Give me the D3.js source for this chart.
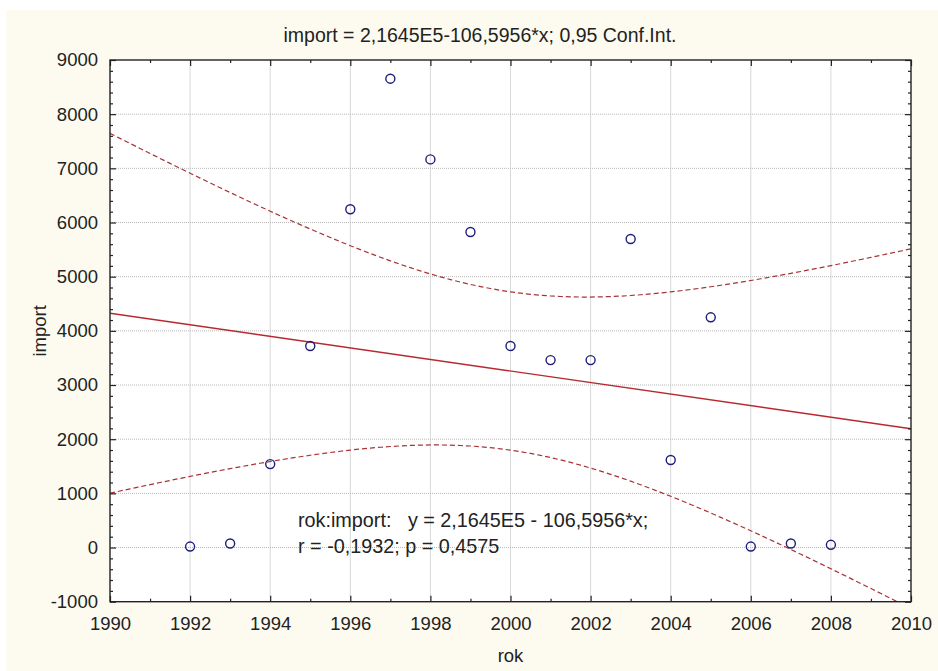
<!DOCTYPE html>
<html>
<head>
<meta charset="utf-8">
<script src="https://cdn.jsdelivr.net/npm/d3@7/dist/d3.min.js"></script>
<style>
  html, body { margin: 0; padding: 0; background: #ffffff; }
  svg { display: block; }
  text { font-family: "Liberation Sans", Arial, sans-serif; fill: #222; }
</style>
</head>
<body>
<svg id="chart" width="938" height="671"></svg>
<script>
// ---- data ----
const years = [1992, 1993, 1994, 1995, 1996, 1997, 1998, 1999, 2000, 2001, 2002, 2003, 2004, 2005, 2006, 2007, 2008];
const importValues = [18, 74, 1540, 3720, 6245, 8655, 7165, 5825, 3720, 3460, 3460, 5695, 1615, 4250, 18, 74, 50];
const xTickValues = [1990, 1992, 1994, 1996, 1998, 2000, 2002, 2004, 2006, 2008, 2010];
const yTickValues = [-1000, 0, 1000, 2000, 3000, 4000, 5000, 6000, 7000, 8000, 9000];
const xDomain = [1990, 2010];
const yDomain = [-1000, 9000];
const fitIntercept = 216450;     // 2,1645E5 (from the chart title)
const fitSlope = -106.5956;      // from the chart title
const titleText = "import = 2,1645E5-106,5956*x; 0,95 Conf.Int.";
const xLabel = "rok";
const yLabel = "import";
const annotationLines = ["rok:import:   y = 2,1645E5 - 106,5956*x;", "r = -0,1932; p = 0,4575"];
const tCrit = 2.131; // t(0.975, df = 15)

// ---- layout ----
const W = 938, H = 671;
const L = 110, R = 911, T = 60, B = 601.7;
const svg = d3.select("#chart");

svg.append("rect").attr("x", 0).attr("y", 0).attr("width", W).attr("height", H).attr("fill", "#ffffff");
svg.append("rect").attr("x", 6).attr("y", 10).attr("width", W - 6).attr("height", H - 10).attr("fill", "#fdfbf0");
svg.append("rect").attr("x", L).attr("y", T).attr("width", R - L).attr("height", B - T).attr("fill", "#ffffff");

const x = d3.scaleLinear().domain(xDomain).range([L, R]);
const y = d3.scaleLinear().domain(yDomain).range([B, T]);

// ---- grid ----
const grid = svg.append("g");
grid.selectAll("line.vg").data(xTickValues.filter(v => v > xDomain[0] && v < xDomain[1]))
  .join("line").attr("class", "vg")
  .attr("x1", d => x(d)).attr("x2", d => x(d)).attr("y1", T).attr("y2", B)
  .attr("stroke", "#d8d8d8").attr("stroke-width", 1);
grid.selectAll("line.hg").data(yTickValues.filter(v => v > yDomain[0] && v < yDomain[1]))
  .join("line").attr("class", "hg")
  .attr("x1", L).attr("x2", R).attr("y1", d => y(d)).attr("y2", d => y(d))
  .attr("stroke", "#b8b8b8").attr("stroke-width", 1).attr("stroke-dasharray", "1,1");

// ---- regression & 0.95 confidence band ----
const n = years.length;
const mx = d3.mean(years);
const sxx = d3.sum(years, v => (v - mx) * (v - mx));
const fit = xv => fitIntercept + fitSlope * xv;
const sse = d3.sum(years, (v, i) => Math.pow(importValues[i] - fit(v), 2));
const s = Math.sqrt(sse / (n - 2));
const half = xv => tCrit * s * Math.sqrt(1 / n + (xv - mx) * (xv - mx) / sxx);
const sampleX = d3.range(xDomain[0], xDomain[1] + 0.0001, 0.25);

svg.append("clipPath").attr("id", "plotclip").append("rect")
  .attr("x", L).attr("y", T).attr("width", R - L).attr("height", B - T);
const plot = svg.append("g").attr("clip-path", "url(#plotclip)");
const line = d3.line().x(d => x(d[0])).y(d => y(d[1]));

plot.append("path").datum(sampleX.map(v => [v, fit(v) + half(v)]))
  .attr("d", line).attr("fill", "none").attr("stroke", "#a83236").attr("stroke-width", 1.2)
  .attr("stroke-dasharray", "5,3");
plot.append("path").datum(sampleX.map(v => [v, fit(v) - half(v)]))
  .attr("d", line).attr("fill", "none").attr("stroke", "#a83236").attr("stroke-width", 1.2)
  .attr("stroke-dasharray", "5,3");
plot.append("path").datum(xDomain.map(v => [v, fit(v)]))
  .attr("d", line).attr("fill", "none").attr("stroke", "#b8282e").attr("stroke-width", 1.4);

// ---- points ----
plot.selectAll("circle.pt").data(years.map((v, i) => [v, importValues[i]]))
  .join("circle").attr("class", "pt")
  .attr("cx", d => x(d[0])).attr("cy", d => y(d[1])).attr("r", 4.5)
  .attr("fill", "none").attr("stroke", "#1e1e7c").attr("stroke-width", 1.4);

// ---- axes ----
const tickFont = "18.5px";
const textFont = "19.8px";
const plainNum = d => String(d);   // hyphen-minus, as in the reference
const xMinor = d3.range(xDomain[0] + 1, xDomain[1], 2);
const yMinor = d3.range(yDomain[0], yDomain[1] + 1, 200).filter(v => v % 1000 !== 0 && v > yDomain[0] && v < yDomain[1]);

function styleAxis(g) {
  g.select(".domain").remove();
  g.selectAll(".tick line").attr("stroke", "#222").attr("stroke-width", 1.2);
  g.selectAll(".tick text").attr("fill", "#222").style("font-size", tickFont)
    .style("font-family", "'Liberation Sans', Arial, sans-serif");
}

svg.append("g").attr("transform", `translate(0,${B})`)
  .call(d3.axisBottom(x).tickValues(xTickValues).tickFormat(plainNum).tickSize(-6).tickPadding(15))
  .call(styleAxis);
svg.append("g").attr("transform", `translate(0,${B})`)
  .call(d3.axisBottom(x).tickValues(xMinor).tickFormat("").tickSize(-3)).call(styleAxis);
svg.append("g").attr("transform", `translate(0,${T})`)
  .call(d3.axisTop(x).tickValues(xTickValues).tickFormat("").tickSize(-6)).call(styleAxis);
svg.append("g").attr("transform", `translate(0,${T})`)
  .call(d3.axisTop(x).tickValues(xMinor).tickFormat("").tickSize(-3)).call(styleAxis);

svg.append("g").attr("transform", `translate(${L},0)`)
  .call(d3.axisLeft(y).tickValues(yTickValues).tickFormat(plainNum).tickSize(-6).tickPadding(12))
  .call(styleAxis);
svg.append("g").attr("transform", `translate(${L},0)`)
  .call(d3.axisLeft(y).tickValues(yMinor).tickFormat("").tickSize(-3)).call(styleAxis);
svg.append("g").attr("transform", `translate(${R},0)`)
  .call(d3.axisRight(y).tickValues(yTickValues).tickFormat("").tickSize(-6)).call(styleAxis);
svg.append("g").attr("transform", `translate(${R},0)`)
  .call(d3.axisRight(y).tickValues(yMinor).tickFormat("").tickSize(-3)).call(styleAxis);

svg.append("rect").attr("x", L).attr("y", T).attr("width", R - L).attr("height", B - T)
  .attr("fill", "none").attr("stroke", "#222").attr("stroke-width", 1.4);

// ---- texts ----
svg.append("text").attr("x", 480).attr("y", 42).attr("text-anchor", "middle")
  .style("font-size", "19.5px").text(titleText);
svg.append("text").attr("x", (L + R) / 2).attr("y", 662).attr("text-anchor", "middle")
  .style("font-size", tickFont).text(xLabel);
svg.append("text").attr("transform", `translate(46,${(T + B) / 2}) rotate(-90)`).attr("text-anchor", "middle")
  .style("font-size", tickFont).text(yLabel);

const ann = svg.append("text").attr("x", 298).attr("y", 527)
  .style("font-size", textFont).style("white-space", "pre");
ann.selectAll("tspan").data(annotationLines).join("tspan")
  .attr("x", 298).attr("dy", (d, i) => i === 0 ? 0 : 26).text(d => d);
</script>
</body>
</html>
